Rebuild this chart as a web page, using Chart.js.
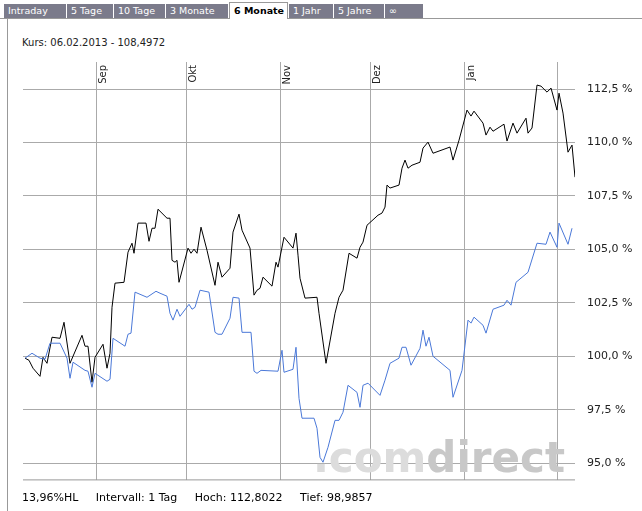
<!DOCTYPE html>
<html>
<head>
<meta charset="utf-8">
<script src="https://cdn.jsdelivr.net/npm/chart.js@4"></script>
<style>
body { margin:0; background:#fff; font-family:"DejaVu Sans", Verdana, sans-serif; }
#wrap { position:relative; width:642px; height:511px; overflow:hidden; }
.tab { position:absolute; top:4px; height:14px; background:#7b7b8b; color:#fff; font-size:9.5px; line-height:14px; padding-left:4px; box-sizing:border-box; white-space:nowrap; overflow:hidden; }
.tab.on { top:2px; height:17px; background:#fff; color:#000; font-weight:bold; border:1px solid #999; border-bottom:none; line-height:15px; }
#topline { position:absolute; left:0; top:18px; width:642px; height:1px; background:#999; }
#frame { position:absolute; left:7px; top:18px; width:1px; height:493px; background:#999; }
#kurs { position:absolute; left:22px; top:37px; font-size:10px; color:#222; }
#foot { position:absolute; left:22px; top:491px; font-size:11px; color:#000; white-space:pre; background:#fff; }
#box { position:absolute; left:23px; top:30px; width:617px; height:469px; }
</style>
</head>
<body>
<div id="wrap">
  <div id="topline"></div>
  <div id="frame"></div>
  <div id="tabs"></div>
  <div id="kurs">Kurs: 06.02.2013 - 108,4972</div>
  <div id="box"><canvas id="c"></canvas></div>
  <div id="foot">13,96%HL     Intervall: 1 Tag     Hoch: 112,8022     Tief: 98,9857</div>
</div>
<script>
// tabs
const tabNames = ["Intraday", "5 Tage", "10 Tage", "3 Monate", "6 Monate", "1 Jahr", "5 Jahre", "\u221e"];
const tabEdges = [4, 67, 114, 166, 229, 289, 334, 385, 424];
let tabsHtml = "";
for (let i = 0; i < tabNames.length; i++) {
    let cls = i === 4 ? "tab on" : "tab";
    tabsHtml += `<div class="${cls}" style="left:${tabEdges[i]}px;width:${tabEdges[i + 1] - tabEdges[i] - 1}px">${tabNames[i]}</div>`;
}
document.getElementById("tabs").innerHTML = tabsHtml;

// time axis in chart units (trading-day positions)
const monthLabels = ["Sep", "Okt", "Nov", "Dez", "Jan", ""];
const monthPos = [96, 186, 280, 370, 464, 557];
const yTicks = [95, 97.5, 100, 102.5, 105, 107.5, 110, 112.5];

// black series: the stock
const stockX = [25,29,33,40,43,47,52,60,64,70,82,85,88,92,95,103,107,110,112,115,124,128,132,134,138,146,149,152,155,158,
    167,170,172,175,177,179,188,191,194,197,201,207,215,218,222,230,233,239,242,250,254,257,260,263,272,276,278,284,293,296,
    298,300,305,317,319,326,335,339,343,349,357,360,363,367,378,382,385,387,390,399,402,405,408,412,420,423,428,433,450,453,
    459,467,471,474,483,486,490,493,504,507,513,517,526,528,532,537,541,547,551,557,559,563,568,572,575];
const stockY = [99.91,99.81,99.44,99.06,99.95,99.67,100.89,100.84,101.59,99.67,100.98,100.47,100.47,98.78,99.95,100.56,99.44,100.14,102.29,103.42,
    103.46,104.87,105.29,104.82,106.23,106.23,105.38,105.99,105.99,106.88,106.46,106.46,104.49,104.40,104.49,103.46,105.06,104.82,105.01,104.82,
    106.04,104.96,103.32,104.40,103.70,104.12,105.81,106.65,105.90,105.06,102.86,103.09,103.18,103.70,103.28,104.40,104.17,105.57,105.06,105.76,
    104.73,103.65,102.72,102.76,102.01,99.67,102.01,102.76,103.09,104.82,104.59,105.10,105.34,106.13,106.60,106.70,106.98,108.01,107.87,108.01,
    108.80,109.18,108.80,108.94,109.08,109.74,110.02,109.50,109.79,109.18,110.11,111.52,111.24,111.47,110.91,110.35,110.72,110.53,110.86,110.07,
    110.91,110.44,111.14,110.44,110.68,112.69,112.64,112.36,112.55,111.52,112.31,111.38,109.55,109.88,108.38];

// blue series: the benchmark index
const indexX = [25,32,40,45,50,60,67,70,73,85,88,92,95,107,110,113,125,128,131,135,147,156,160,167,170,173,177,180,189,192,
    195,200,209,215,218,222,230,233,239,242,251,254,257,261,278,282,284,293,296,299,302,314,317,320,323,328,335,339,343,348,
    357,360,363,368,380,385,390,399,402,406,411,420,423,426,429,433,450,453,462,468,471,474,483,486,493,504,507,511,516,528,
    537,546,550,557,559,568,572];
const indexY = [99.91,100.14,99.91,99.86,100.61,100.61,99.91,98.97,99.72,99.34,99.30,98.55,99.20,98.83,98.92,100.84,100.47,101.03,101.08,103.00,
    102.76,103.04,102.95,102.81,102.01,101.69,102.20,101.87,102.43,102.20,102.29,103.09,103.00,101.12,101.03,101.03,101.78,102.76,102.72,101.12,
    101.12,99.30,99.20,99.34,99.30,100.28,99.25,99.39,100.42,98.03,97.10,97.10,96.63,95.27,95.04,95.74,97.00,97.00,97.38,98.64,
    98.31,97.61,98.64,98.74,98.17,98.88,99.67,99.91,100.42,100.42,99.58,100.37,101.22,100.47,100.89,100.00,99.34,98.08,99.34,101.69,
    101.55,101.83,101.45,101.08,102.20,102.39,102.62,102.39,103.46,103.93,105.29,105.24,105.81,105.10,106.23,105.24,105.99];

function pts(xs, ys) { return xs.map((x, i) => ({ x: x, y: ys[i] })); }

const overlay = {
    id: "overlay",
    afterDraw(chart) {
        const ctx = chart.ctx, a = chart.chartArea, xs = chart.scales.x;
        ctx.save();
        // bottom border
        ctx.strokeStyle = "#999"; ctx.lineWidth = 1;
        ctx.beginPath(); ctx.moveTo(a.left, a.bottom - 0.5); ctx.lineTo(a.right, a.bottom - 0.5); ctx.stroke();
        // month labels
        ctx.fillStyle = "#222"; ctx.font = "10px 'DejaVu Sans'";
        monthLabels.forEach((m, i) => {
            if (!m) return;
            ctx.save();
            ctx.translate(xs.getPixelForValue(monthPos[i]) + 10, a.top + 3);
            ctx.rotate(-Math.PI / 2);
            ctx.textAlign = "right";
            ctx.fillText(m, 0, 0);
            ctx.restore();
        });
        ctx.restore();
    },
    beforeDatasetsDraw(chart) {
        const ctx = chart.ctx, a = chart.chartArea;
        ctx.save();
        ctx.font = "bold 42px 'DejaVu Sans'";
        ctx.textAlign = "right";
        ctx.fillStyle = "#c8c8c8";
        ctx.fillText("direct", a.right - 10, a.bottom - 8);
        const w = ctx.measureText("direct").width;
        ctx.fillStyle = "#dcdcdc";
        ctx.fillText(".com", a.right - 10 - w, a.bottom - 8);
        ctx.restore();
    }
};

new Chart(document.getElementById("c"), {
    type: "line",
    data: {
        datasets: [
            { data: pts(indexX, indexY), borderColor: "#4a78d8", borderWidth: 1, pointRadius: 0, tension: 0 },
            { data: pts(stockX, stockY), borderColor: "#000", borderWidth: 1, pointRadius: 0, tension: 0 }
        ]
    },
    options: {
        responsive: true,
        maintainAspectRatio: false,
        animation: false,
        layout: { padding: { top: 32, bottom: 2, left: 0, right: 0 } },
        plugins: { legend: { display: false }, tooltip: { enabled: false } },
        scales: {
            x: {
                type: "linear", min: 23, max: 575,
                border: { display: false },
                grid: { color: "#aaa", drawTicks: false },
                afterBuildTicks(s) { s.ticks = monthPos.map(v => ({ value: v })); },
                afterFit(s) { s.height = 0; },
                ticks: { display: false }
            },
            y: {
                position: "right", min: 94.19, max: 113.77,
                border: { display: false },
                grid: { color: "#aaa", drawTicks: false },
                afterBuildTicks(s) { s.ticks = yTicks.map(v => ({ value: v })); },
                afterFit(s) { s.width = 65; },
                ticks: {
                    padding: 12, color: "#222", font: { family: "DejaVu Sans", size: 11 },
                    callback: v => v.toFixed(1).replace(".", ",") + " %"
                }
            }
        }
    },
    plugins: [overlay]
});
</script>
</body>
</html>
